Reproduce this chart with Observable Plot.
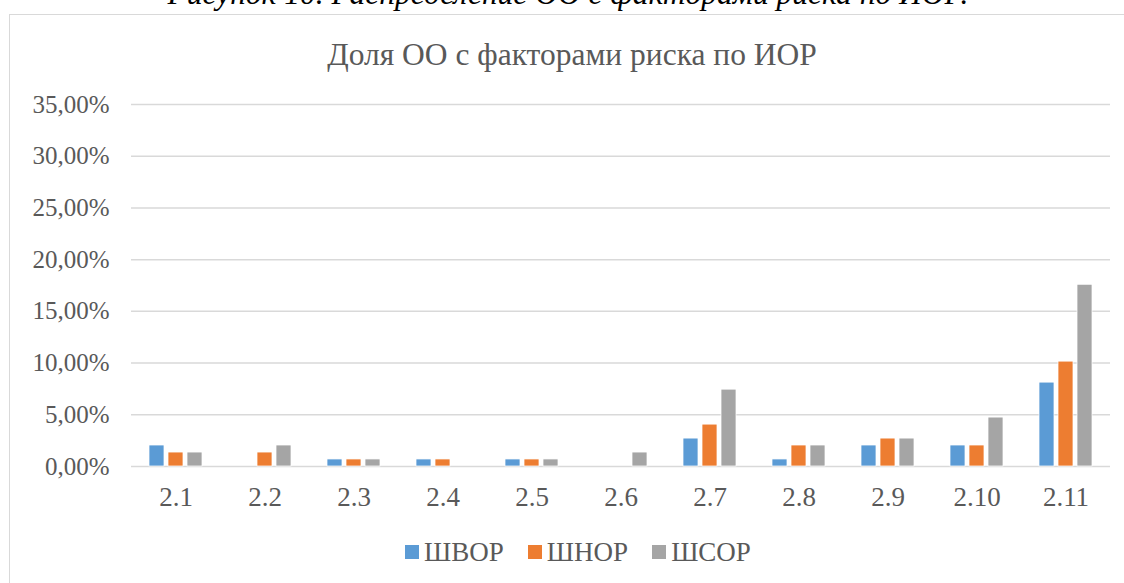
<!DOCTYPE html>
<html>
<head>
<meta charset="utf-8">
<script src="https://cdn.jsdelivr.net/npm/d3@7"></script>
<script src="https://cdn.jsdelivr.net/npm/@observablehq/plot@0.6"></script>
<style>
  html, body { margin: 0; padding: 0; background: #fff; }
  #wrap { position: relative; width: 1124px; height: 583px; overflow: hidden; font-family: "Liberation Serif", "Times New Roman", serif; }
  #caption { position: absolute; left: 6px; top: -22px; width: 1124px; text-align: center; font-style: italic; font-size: 31.5px; line-height: 31.5px; color: #000; white-space: nowrap; }
  #frame { position: absolute; left: 9px; top: 14px; width: 1200px; height: 700px; border: 1px solid #d9d9d9; box-sizing: border-box; background: #fff; }
  #title { position: absolute; left: 0; top: 38px; width: 1144px; text-align: center; font-size: 31.5px; line-height: 34px; color: #595959; }
  #chart { position: absolute; left: 0; top: 90px; }
  #legend { position: absolute; left: 0; top: 537px; width: 1156px; display: flex; justify-content: center; align-items: center; font-size: 27px; line-height: 30px; color: #595959; }
  .item { display: flex; align-items: center; margin: 0 12px; }
  .sw { width: 14px; height: 14px; margin-right: 5px; }
</style>
</head>
<body>
<div id="wrap">
  <div id="caption">Рисунок 10. Распределение ОО с факторами риска по ИОР.</div>
  <div id="frame"></div>
  <div id="title">Доля ОО с факторами риска по ИОР</div>
  <div id="chart"></div>
  <div id="legend"></div>
</div>
<script>
const categories = ["2.1", "2.2", "2.3", "2.4", "2.5", "2.6", "2.7", "2.8", "2.9", "2.10", "2.11"];
const series = ["ШВОР", "ШНОР", "ШСОР"];
const shvor = [2.03, 0, 0.68, 0.68, 0.68, 0, 2.70, 0.68, 2.03, 2.03, 8.11];
const shnor = [1.35, 1.35, 0.68, 0.68, 0.68, 0, 4.05, 2.03, 2.70, 2.03, 10.14];
const shsor = [1.35, 2.03, 0.68, 0, 0.68, 1.35, 7.43, 2.03, 2.70, 4.73, 17.57];
const yTicks = [0, 5, 10, 15, 20, 25, 30, 35];
const colors = ["#5B9BD5", "#ED7D31", "#A5A5A5"];

const valuesBySeries = [shvor, shnor, shsor];
const data = [];
categories.forEach((c, i) => {
  series.forEach((s, j) => {
    data.push({category: c, series: s, value: valuesBySeries[j][i]});
  });
});
const fmt = d => d.toFixed(2).replace(".", ",") + "%";

const chart = Plot.plot({
  width: 1124,
  height: 430,
  marginTop: 14,
  marginBottom: 54,
  marginLeft: 130,
  marginRight: 14,
  style: {fontFamily: "'Liberation Serif', 'Times New Roman', serif", color: "#595959", background: "transparent", overflow: "visible"},
  fx: {domain: categories, padding: 0},
  x: {domain: series, paddingInner: 0.225, paddingOuter: 0.84, axis: null},
  y: {domain: [0, 35]},
  color: {domain: series, range: colors},
  marks: [
    Plot.gridY(yTicks, {stroke: "#d9d9d9", strokeOpacity: 1, strokeWidth: 1.5}),
    Plot.barY(data.filter(d => d.value > 0), {fx: "category", x: "series", y: "value", fill: "series", stroke: "white", strokeWidth: 0.75}),
    Plot.axisY(yTicks, {tickSize: 0, tickPadding: 22, fontSize: 25, tickFormat: fmt, label: null}),
    Plot.axisFx({anchor: "bottom", tickSize: 0, tickPadding: 20, fontSize: 27, label: null})
  ]
});
document.getElementById("chart").appendChild(chart);

const legend = document.getElementById("legend");
series.forEach((s, j) => {
  const item = document.createElement("div");
  item.className = "item";
  const sw = document.createElement("div");
  sw.className = "sw";
  sw.style.background = colors[j];
  const label = document.createElement("span");
  label.textContent = s;
  item.appendChild(sw);
  item.appendChild(label);
  legend.appendChild(item);
});
</script>
</body>
</html>
